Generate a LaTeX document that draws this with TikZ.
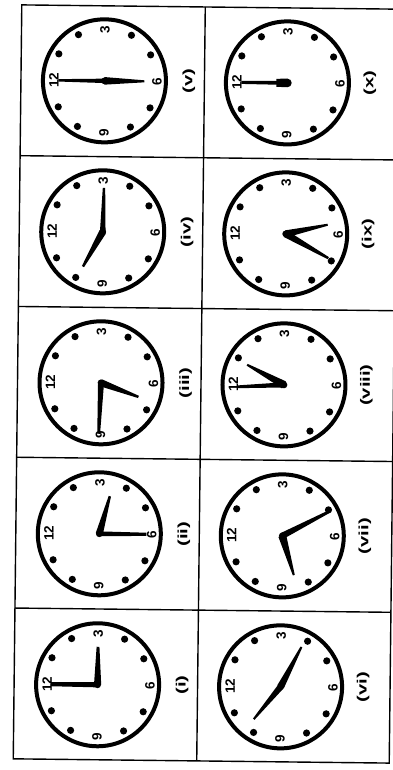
\documentclass[tikz,border=0pt]{standalone}
\usepackage{fontspec}
\setmainfont{Liberation Sans}
\usetikzlibrary{calc}

% one hand: clock node, angle, length, half width at pivot, half width at tip
\newcommand{\clockhand}[5]{%
  \fill[shift={(#1)},rotate=#2] (0,-#4) -- (#3,-#5) -- (#3,#5) -- (0,#4) -- cycle;}

\begin{document}
\begin{tikzpicture}[
    x=1pt, y=1pt,
    frame/.style={line width=1.4pt},
    dial/.style={
      circle,
      draw,
      line width=4pt,
      minimum size=123pt,
      inner sep=0pt,
    },
    numeral/.style={rotate=90, inner sep=0pt, font=\fontsize{13.5}{13.5}\selectfont\bfseries},
    tag/.style={rotate=90, xscale=1.5, inner sep=0pt, font=\fontsize{13.5}{13.5}\selectfont\bfseries},
  ]
  \useasboundingbox (0,0) rectangle (392,770);
  \begin{scope}[shift={(205.5,386)}, rotate=-0.65]

    % frame and cells
    \draw[frame] (-188,-377) rectangle (188,377);
    \draw[frame] (-4.5,-377) -- (-4.5,377);
    \foreach \y in {-226.2,-75.4,75.4,226.2}
      \draw[frame] (-188,\y) -- (188,\y);

    % clock faces
    \node[dial] (ClockV) at (-104.5,302) {};
    \node[dial] (ClockX) at (78.5,302) {};
    \node[dial] (ClockIV) at (-104.5,151) {};
    \node[dial] (ClockIX) at (78.5,151) {};
    \node[dial] (ClockIII) at (-104.5,0) {};
    \node[dial] (ClockVIII) at (78.5,0) {};
    \node[dial] (ClockII) at (-104.5,-151) {};
    \node[dial] (ClockVII) at (78.5,-151) {};
    \node[dial] (ClockI) at (-104.5,-302) {};
    \node[dial] (ClockVI) at (78.5,-302) {};

    % labels
    \node[tag] (TagV) at ($(ClockV.east)+(21,0)$) {(v)};
    \node[tag] (TagX) at ($(ClockX.east)+(19,0)$) {(x)};
    \node[tag] (TagIV) at ($(ClockIV.east)+(21,0)$) {(iv)};
    \node[tag] (TagIX) at ($(ClockIX.east)+(19,0)$) {(ix)};
    \node[tag] (TagIII) at ($(ClockIII.east)+(21,0)$) {(iii)};
    \node[tag] (TagVIII) at ($(ClockVIII.east)+(19,0)$) {(viii)};
    \node[tag] (TagII) at ($(ClockII.east)+(21,0)$) {(ii)};
    \node[tag] (TagVII) at ($(ClockVII.east)+(19,0)$) {(vii)};
    \node[tag] (TagI) at ($(ClockI.east)+(21,0)$) {(i)};
    \node[tag] (TagVI) at ($(ClockVI.east)+(19,0)$) {(vi)};

    % dots and numerals
    \foreach \c in {ClockI,ClockII,ClockIII,ClockIV,ClockV,ClockVI,ClockVII,ClockVIII,ClockIX,ClockX} {
      \foreach \a in {150,120,60,30,-30,-60,-120,-150}
        \fill ($(\c)+(\a:53)$) circle (3.6);
      \node[numeral] (\c-12) at ($(\c)+(180:50.5)$) {12};
      \node[numeral] (\c-3) at ($(\c)+(90:51.5)$) {3};
      \node[numeral] (\c-6) at ($(\c)+(0:52.5)$) {6};
      \node[numeral] (\c-9) at ($(\c)+(270:51.5)$) {9};
      \fill (\c) circle (3.4);
    }

    % hands
    \clockhand{ClockI}{180}{47}{2.6}{2}
    \clockhand{ClockI}{90}{38}{3.6}{1.4}
    \clockhand{ClockII}{75}{39}{3.6}{1.2}
    \clockhand{ClockII}{0}{47}{2.4}{1.6}
    \clockhand{ClockIII}{-20}{40}{3.6}{1.2}
    \clockhand{ClockIII}{268}{51}{3}{1.4}
    \clockhand{ClockIV}{89}{44}{2.8}{1.2}
    \clockhand{ClockIV}{241}{40}{3.6}{1.2}
    \clockhand{ClockV}{180}{46}{2.2}{1.2}
    \clockhand{ClockV}{0}{40}{3.8}{1}
    \clockhand{ClockVI}{63}{45}{3.6}{1}
    \clockhand{ClockVI}{231}{42}{3.2}{1}
    \clockhand{ClockVII}{28}{52}{3.2}{1.4}
    \clockhand{ClockVII}{-73}{41}{4}{1}
    \clockhand{ClockVIII}{183}{46}{2.6}{1.4}
    \clockhand{ClockVIII}{152}{42}{4}{1}
    \clockhand{ClockIX}{13}{43}{3.6}{1}
    \clockhand{ClockIX}{-29}{49}{3.6}{1.2}
    \clockhand{ClockX}{180}{46}{2}{1.5}
    \clockhand{ClockX}{180}{11}{4.3}{4}
    \fill (ClockX) circle (4.3);
  \end{scope}
\end{tikzpicture}
\end{document}
